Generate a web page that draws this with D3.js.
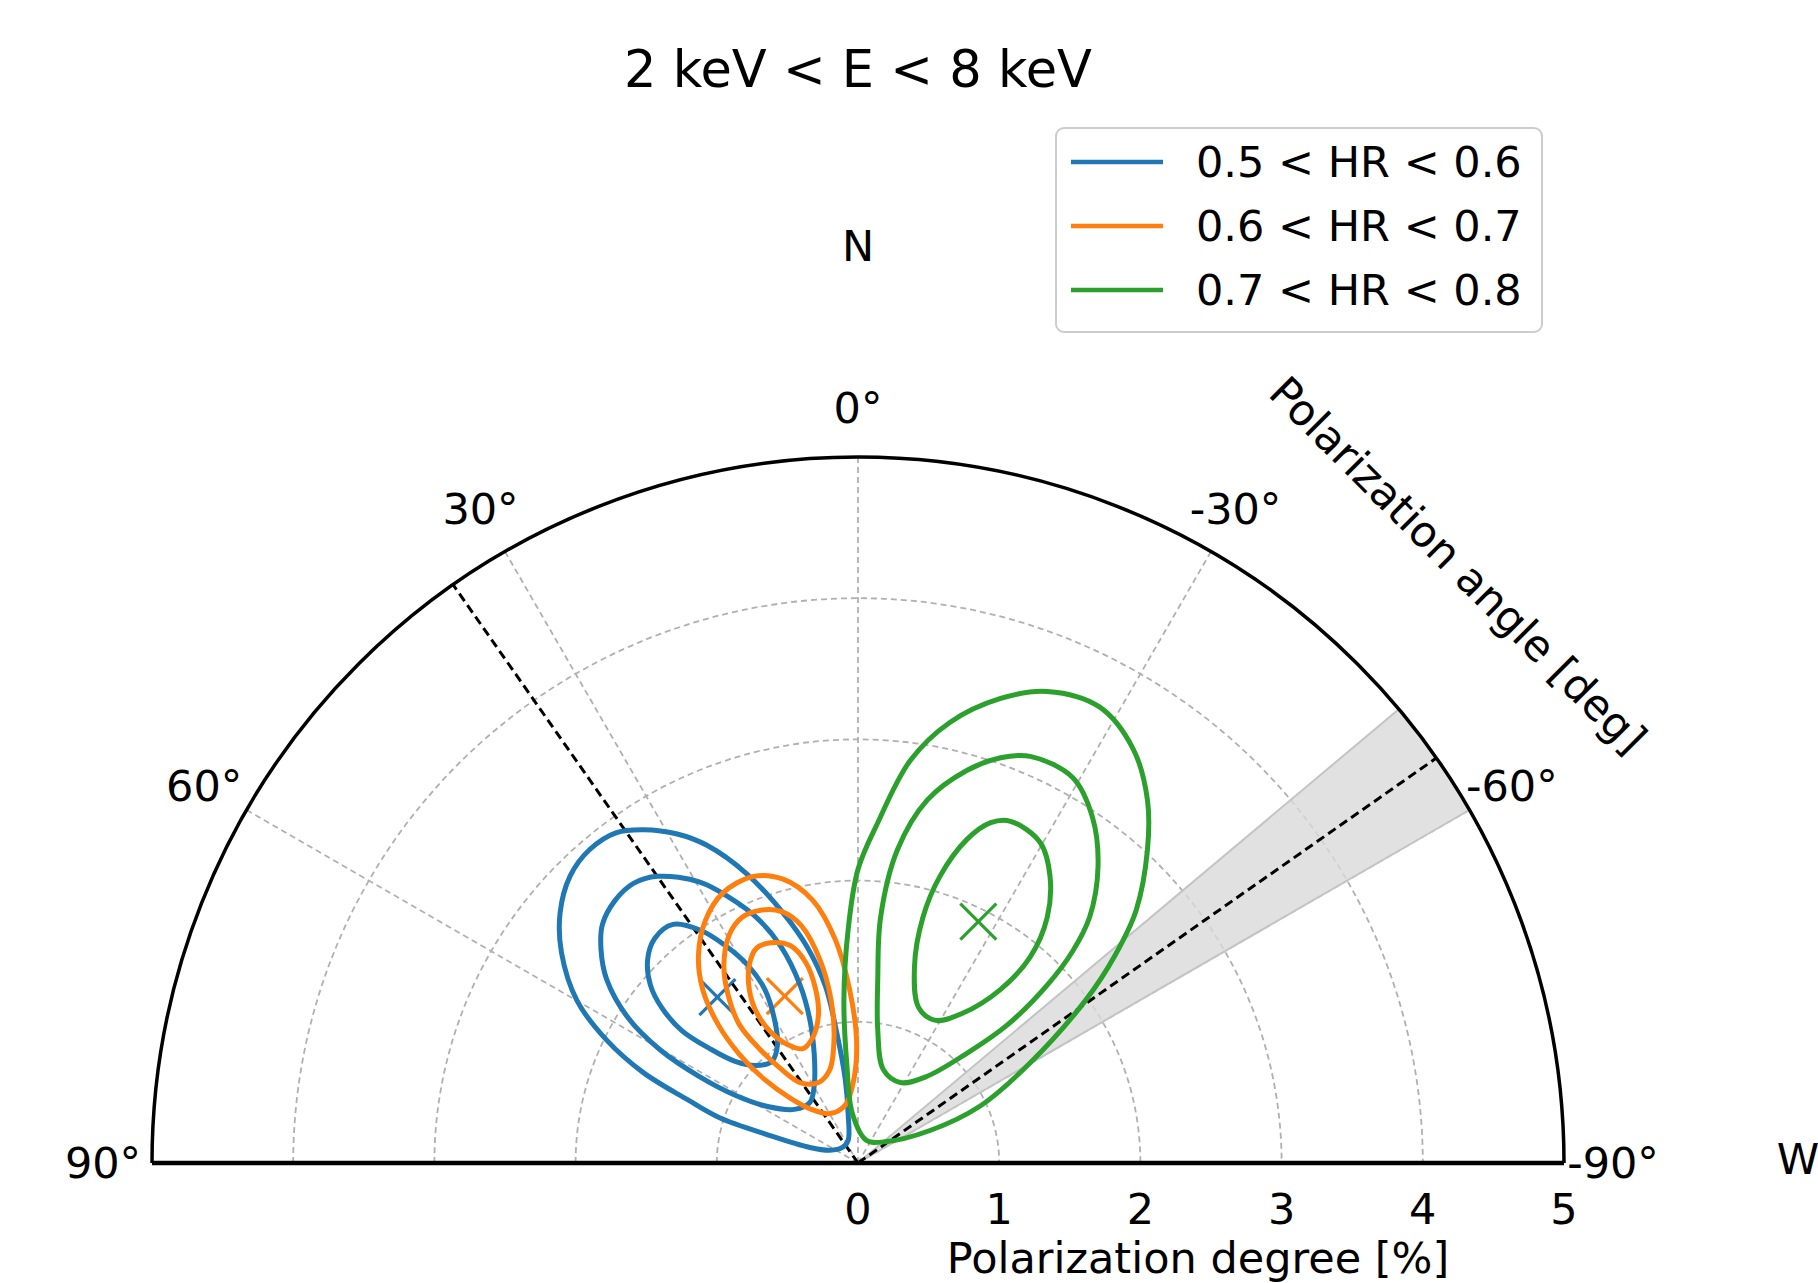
<!DOCTYPE html>
<html lang="en">
<head>
<meta charset="utf-8" />
<title>2 keV &lt; E &lt; 8 keV polarization contours</title>
<script src="https://d3js.org/d3.v7.min.js"></script>
<style>
  body { margin: 0; background: #fff; }
  svg { font-family: "DejaVu Sans", sans-serif; }
</style>
</head>
<body>
<script>
// ---- data ----
var title = "2 keV < E < 8 keV";
var hrLabels = ["0.5 < HR < 0.6", "0.6 < HR < 0.7", "0.7 < HR < 0.8"];
var hrColors = ["#1f77b4", "#ff7f0e", "#2ca02c"];

// best fit (polarization angle in deg, polarization degree in %)
var bestPA = [40.3, 23.7, -26.5];
var bestPD = [1.54, 1.29, 1.91];

var thetaTicks = [90, 60, 30, 0, -30, -60, -90];
var gridAngles = [60, 30, 0, -30, -60];
var rTicks = [0, 1, 2, 3, 4, 5];
var gridRadii = [1, 2, 3, 4];

var refLineAngles = [35, -55];     // dashed black lines
var bandAngles = [-50, -60];       // shaded range around -55

// contour vertices in sky-plane units of PD [%]: [east-west (right +), north]
var contourBlue = [
  [[-1.52,2.36],[-1.28,2.33],[-1.07,2.25],[-0.79,2.05],[-0.53,1.77],[-0.36,1.53],[-0.23,1.25],[-0.15,0.92],[-0.09,0.59],[-0.07,0.35],[-0.07,0.16],[-0.11,0.11],[-0.20,0.09],[-0.34,0.11],[-0.64,0.20],[-0.98,0.32],[-1.21,0.45],[-1.52,0.64],[-1.78,0.87],[-1.99,1.15],[-2.10,1.49],[-2.11,1.77],[-2.04,2.03],[-1.90,2.22],[-1.71,2.34]],
  [[-1.42,2.03],[-1.12,1.99],[-0.91,1.88],[-0.72,1.74],[-0.55,1.54],[-0.41,1.26],[-0.34,1.01],[-0.31,0.77],[-0.31,0.55],[-0.34,0.43],[-0.45,0.38],[-0.64,0.40],[-0.87,0.48],[-1.12,0.61],[-1.40,0.80],[-1.63,1.03],[-1.78,1.30],[-1.82,1.51],[-1.81,1.69],[-1.72,1.86],[-1.59,1.98]],
  [[-1.31,1.69],[-1.12,1.65],[-0.94,1.54],[-0.78,1.40],[-0.66,1.23],[-0.59,1.01],[-0.57,0.84],[-0.61,0.72],[-0.72,0.69],[-0.87,0.72],[-1.05,0.81],[-1.25,0.94],[-1.39,1.10],[-1.47,1.26],[-1.49,1.44],[-1.44,1.59]]
];
var contourOrange = [
  [[-0.74,2.03],[-0.53,2.01],[-0.32,1.86],[-0.16,1.58],[-0.06,1.23],[-0.01,0.87],[-0.03,0.59],[-0.09,0.41],[-0.20,0.35],[-0.33,0.38],[-0.48,0.46],[-0.66,0.59],[-0.84,0.77],[-0.99,0.98],[-1.10,1.23],[-1.13,1.47],[-1.08,1.72],[-0.96,1.91]],
  [[-0.69,1.79],[-0.54,1.78],[-0.40,1.68],[-0.27,1.44],[-0.19,1.15],[-0.17,0.87],[-0.20,0.66],[-0.28,0.57],[-0.41,0.57],[-0.55,0.67],[-0.69,0.80],[-0.84,0.98],[-0.92,1.19],[-0.95,1.40],[-0.91,1.62],[-0.82,1.74]],
  [[-0.62,1.56],[-0.48,1.54],[-0.37,1.42],[-0.30,1.23],[-0.28,1.05],[-0.32,0.89],[-0.39,0.81],[-0.50,0.84],[-0.62,0.93],[-0.72,1.07],[-0.77,1.23],[-0.77,1.40],[-0.72,1.52]]
];
var contourGreen = [
  [[1.34,3.34],[1.71,3.23],[1.95,2.93],[2.05,2.57],[2.05,2.22],[1.97,1.79],[1.82,1.47],[1.61,1.15],[1.22,0.71],[0.86,0.40],[0.51,0.23],[0.19,0.15],[0.06,0.16],[-0.04,0.35],[-0.08,0.71],[-0.10,1.15],[-0.07,1.65],[0.00,2.08],[0.14,2.41],[0.37,2.85],[0.65,3.12],[1.01,3.29]],
  [[1.22,2.88],[1.52,2.73],[1.66,2.45],[1.70,2.10],[1.64,1.74],[1.52,1.50],[1.34,1.26],[1.06,0.98],[0.76,0.77],[0.48,0.61],[0.30,0.57],[0.18,0.66],[0.14,0.94],[0.14,1.30],[0.16,1.74],[0.28,2.22],[0.49,2.57],[0.77,2.78],[1.01,2.87]],
  [[1.08,2.42],[1.29,2.27],[1.36,2.03],[1.34,1.74],[1.22,1.46],[1.01,1.23],[0.74,1.06],[0.55,1.01],[0.43,1.10],[0.40,1.39],[0.46,1.74],[0.58,2.03],[0.77,2.29],[0.94,2.41]]
];
var contours = [contourBlue, contourOrange, contourGreen];

// ---- layout ----
var width = 1818, height = 1283;
var cx = 858, cy = 1163, R = 706;

var svg = d3.select("body").append("svg")
  .attr("width", width)
  .attr("height", height);

var r = d3.scaleLinear().domain([0, 5]).range([0, R]);
var x = d3.scaleLinear().domain([-5, 5]).range([cx - R, cx + R]);
var y = d3.scaleLinear().domain([0, 5]).range([cy, cy - R]);
// polarization angle (deg, counter-clockwise from north) -> d3 angle
function ang(pa) { return -pa * Math.PI / 180; }

var polar = svg.append("g").attr("transform", "translate(" + cx + "," + cy + ")");

// grid circles
polar.selectAll(".ring")
  .data(gridRadii)
  .enter().append("path")
  .attr("class", "ring")
  .attr("d", function (d) {
    var p = d3.path();
    p.arc(0, 0, r(d), Math.PI, 2 * Math.PI);
    return p.toString();
  })
  .attr("fill", "none")
  .attr("stroke", "#b0b0b0")
  .attr("stroke-width", 1.8)
  .attr("stroke-dasharray", "6,4");

// grid spokes
polar.selectAll(".spoke")
  .data(gridAngles)
  .enter().append("line")
  .attr("class", "spoke")
  .attr("x1", 0).attr("y1", 0)
  .attr("x2", function (d) { return d3.pointRadial(ang(d), r(5))[0]; })
  .attr("y2", function (d) { return d3.pointRadial(ang(d), r(5))[1]; })
  .attr("stroke", "#b0b0b0")
  .attr("stroke-width", 1.8)
  .attr("stroke-dasharray", "6,4");

// shaded band
polar.append("path")
  .attr("d", d3.arc()
    .innerRadius(0)
    .outerRadius(r(5))
    .startAngle(ang(bandAngles[0]))
    .endAngle(ang(bandAngles[1]))())
  .attr("fill", "#d9d9d9")
  .attr("fill-opacity", 0.8)
  .attr("stroke", "#c4c4c4")
  .attr("stroke-width", 2);

function refLine(pa) {
  var end = d3.pointRadial(ang(pa), r(5));
  polar.append("line")
    .attr("x1", 0).attr("y1", 0)
    .attr("x2", end[0]).attr("y2", end[1])
    .attr("stroke", "#000")
    .attr("stroke-width", 3)
    .attr("stroke-dasharray", "9,5");
}
refLine(refLineAngles[1]);

// contours
var contourLine = d3.line()
  .x(function (d) { return x(d[0]); })
  .y(function (d) { return y(d[1]); })
  .curve(d3.curveCatmullRomClosed.alpha(0.5));

contours.forEach(function (set, i) {
  svg.selectAll(".c" + i)
    .data(set)
    .enter().append("path")
    .attr("class", "c" + i)
    .attr("d", contourLine)
    .attr("fill", "none")
    .attr("stroke", hrColors[i])
    .attr("stroke-width", 5);
});

// best-fit markers
bestPA.forEach(function (pa, i) {
  var p = d3.pointRadial(ang(pa), r(bestPD[i]));
  var s = 18;
  var m = polar.append("g").attr("transform", "translate(" + p[0] + "," + p[1] + ")");
  m.append("line").attr("x1", -s).attr("y1", -s).attr("x2", s).attr("y2", s);
  m.append("line").attr("x1", -s).attr("y1", s).attr("x2", s).attr("y2", -s);
  m.selectAll("line").attr("stroke", hrColors[i]).attr("stroke-width", 3.2);
});

refLine(refLineAngles[0]);

// outer frame
var outer = d3.path();
outer.arc(0, 0, r(5), Math.PI, 2 * Math.PI);
polar.append("path")
  .attr("d", outer.toString())
  .attr("fill", "none")
  .attr("stroke", "#000")
  .attr("stroke-width", 3.5);
polar.append("line")
  .attr("x1", -r(5)).attr("y1", 0)
  .attr("x2", r(5)).attr("y2", 0)
  .attr("stroke", "#000")
  .attr("stroke-width", 4.5);

// angle tick labels
polar.selectAll(".tlab")
  .data(thetaTicks)
  .enter().append("text")
  .attr("class", "tlab")
  .attr("x", function (d) { return d3.pointRadial(ang(d), r(5) + 49)[0]; })
  .attr("y", function (d) { return d3.pointRadial(ang(d), r(5) + 49)[1] + 15; })
  .attr("text-anchor", "middle")
  .attr("font-size", 43)
  .text(function (d) { return d + "°"; });

// radial tick labels
svg.selectAll(".rlab")
  .data(rTicks)
  .enter().append("text")
  .attr("class", "rlab")
  .attr("x", function (d) { return x(d); })
  .attr("y", 1224)
  .attr("text-anchor", "middle")
  .attr("font-size", 43)
  .text(function (d) { return d; });

svg.append("text")
  .attr("x", 1198).attr("y", 1273)
  .attr("text-anchor", "middle")
  .attr("font-size", 43)
  .text("Polarization degree [%]");

svg.append("text")
  .attr("transform", "translate(1458,565) rotate(45)")
  .attr("text-anchor", "middle")
  .attr("dy", "0.35em")
  .attr("font-size", 43)
  .text("Polarization angle [deg]");

svg.append("text")
  .attr("x", cx).attr("y", 261)
  .attr("text-anchor", "middle")
  .attr("font-size", 43)
  .text("N");

svg.append("text")
  .attr("x", 1798).attr("y", 1174)
  .attr("text-anchor", "middle")
  .attr("font-size", 43)
  .text("W");

svg.append("text")
  .attr("x", cx).attr("y", 87)
  .attr("text-anchor", "middle")
  .attr("font-size", 51)
  .text(title);

// legend
var legend = svg.append("g").attr("transform", "translate(1056,128)");
legend.append("rect")
  .attr("width", 486).attr("height", 204)
  .attr("rx", 8).attr("ry", 8)
  .attr("fill", "#fff")
  .attr("stroke", "#cccccc")
  .attr("stroke-width", 2);
var rows = legend.selectAll(".lrow")
  .data(hrLabels)
  .enter().append("g")
  .attr("class", "lrow")
  .attr("transform", function (d, i) { return "translate(0," + (34 + i * 64) + ")"; });
rows.append("line")
  .attr("x1", 15).attr("x2", 107)
  .attr("stroke", function (d, i) { return hrColors[i]; })
  .attr("stroke-width", 4.5);
rows.append("text")
  .attr("x", 140).attr("y", 15)
  .attr("font-size", 43)
  .text(function (d) { return d; });
</script>
</body>
</html>
